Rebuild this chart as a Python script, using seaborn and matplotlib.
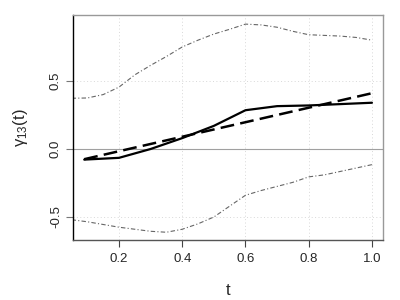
import matplotlib
matplotlib.use("Agg")
import matplotlib.pyplot as plt
import seaborn as sns
import pandas as pd

# ---- data ----
t_est = [0.09, 0.2, 0.3, 0.4, 0.5, 0.6, 0.7, 0.8, 0.9, 1.0]
est = [-0.078, -0.065, 0.0, 0.08, 0.17, 0.285, 0.315, 0.32, 0.33, 0.34]

t_true = [0.09, 1.0]
true_vals = [-0.075, 0.41]

t_band = [0.05, 0.10, 0.15, 0.20, 0.25, 0.30, 0.35, 0.40, 0.45, 0.50,
          0.55, 0.60, 0.65, 0.70, 0.75, 0.80, 0.85, 0.90, 0.95, 1.00]
upper = [0.373, 0.375, 0.40, 0.455, 0.545, 0.615, 0.68, 0.75, 0.80, 0.845,
         0.88, 0.918, 0.912, 0.895, 0.865, 0.84, 0.835, 0.83, 0.82, 0.80]
lower = [-0.52, -0.535, -0.555, -0.575, -0.59, -0.605, -0.612, -0.59, -0.55, -0.50,
         -0.42, -0.34, -0.305, -0.275, -0.245, -0.205, -0.19, -0.165, -0.14, -0.115]

x_ticks = [0.2, 0.4, 0.6, 0.8, 1.0]
x_ticklabels = ["0.2", "0.4", "0.6", "0.8", "1.0"]
y_ticks = [-0.5, 0.0, 0.5]
y_ticklabels = ["-0.5", "0.0", "0.5"]

sns.set_style("white")
plt.rcParams['font.family'] = ['Liberation Sans', 'DejaVu Sans']
plt.rcParams['mathtext.fontset'] = 'custom'
plt.rcParams['mathtext.rm'] = 'Liberation Sans'
plt.rcParams['mathtext.it'] = 'Liberation Sans:italic'

fig = plt.figure(figsize=(4, 3), dpi=100)
ax = fig.add_axes([0.1825, 0.2, 0.775, 0.75])

df_est = pd.DataFrame({"t": t_est, "v": est})
df_true = pd.DataFrame({"t": t_true, "v": true_vals})
df_band = pd.DataFrame({"t": t_band, "up": upper, "lo": lower})

# grid
for xv in x_ticks:
    ax.axvline(xv, color="#d8d8d8", lw=0.7, ls=(0, (1, 2.5)), zorder=0)
for yv in [-0.5, 0.5]:
    ax.axhline(yv, color="#d8d8d8", lw=0.7, ls=(0, (1, 2.5)), zorder=0)
ax.axhline(0.0, color="#a0a0a0", lw=0.8, zorder=1)

sns.lineplot(data=df_band, x="t", y="up", ax=ax, color="#666666", lw=0.8,
             linestyle=(0, (4, 2, 1, 2)), zorder=2)
sns.lineplot(data=df_band, x="t", y="lo", ax=ax, color="#666666", lw=0.8,
             linestyle=(0, (4, 2, 1, 2)), zorder=2)
sns.lineplot(data=df_est, x="t", y="v", ax=ax, color="black", lw=1.6, zorder=3)
sns.lineplot(data=df_true, x="t", y="v", ax=ax, color="black", lw=1.8,
             linestyle=(0, (5.5, 2.5)), zorder=3)

ax.set_xlim(0.0545, 1.035)
ax.set_ylim(-0.669, 0.985)

ax.set_xticks(x_ticks)
ax.set_xticklabels(x_ticklabels, fontsize=9.5)
ax.set_yticks(y_ticks)
ax.set_yticklabels(y_ticklabels, fontsize=9.5, rotation=90, va="center")
ax.tick_params(axis="x", direction="out", length=5, width=0.8, color="#444444", pad=4, bottom=True)
ax.tick_params(axis="y", direction="out", length=5, width=0.8, color="#777777", pad=3, left=True)

for side in ["top", "right"]:
    ax.spines[side].set_color("#999999")
    ax.spines[side].set_linewidth(1.0)
ax.spines["left"].set_color("black")
ax.spines["left"].set_linewidth(1.0)
ax.spines["bottom"].set_color("#555555")
ax.spines["bottom"].set_linewidth(1.0)

ax.set_xlabel("t", fontsize=12, labelpad=13)
ax.set_ylabel("γ$_{13}$(t)", fontsize=12, labelpad=14)

fig.savefig("out.png", dpi=100)
